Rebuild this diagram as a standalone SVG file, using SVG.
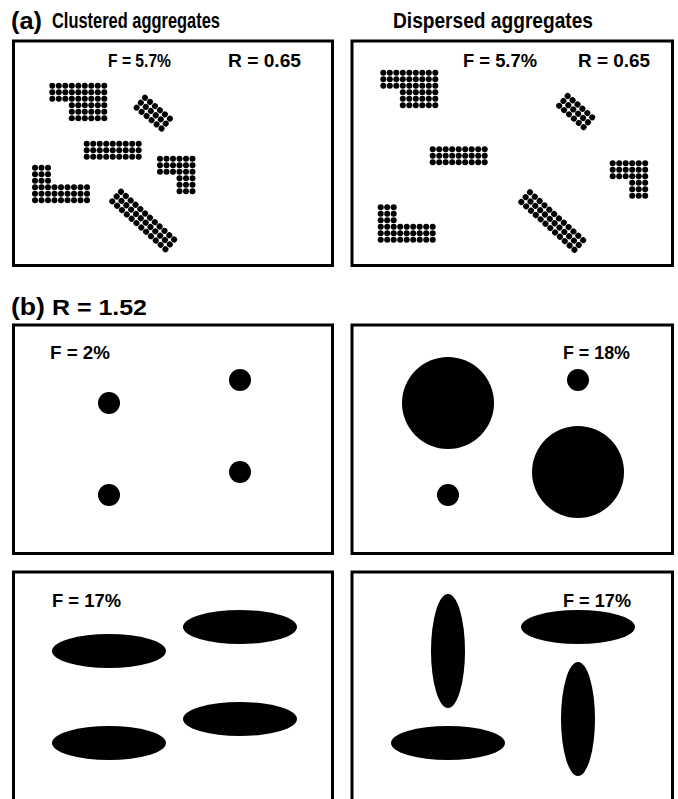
<svg xmlns="http://www.w3.org/2000/svg" xmlns:xlink="http://www.w3.org/1999/xlink" width="678" height="799" viewBox="0 0 678 799">
<style>
.box{fill:#fff;stroke:#000;stroke-width:3}
.t{font-family:"Liberation Sans",Arial,sans-serif;font-weight:bold;fill:#000}
.big{font-size:22px}
.lab{font-size:24px}
.sm{font-size:18px}
.blob{fill:#000}
</style>
<defs>
<circle id="d" r="3" fill="#000"/>
<g id="r3"><use href="#d"/><use href="#d" x="6.5"/><use href="#d" x="13"/></g>
<g id="r6"><use href="#r3"/><use href="#r3" x="19.5"/></g>
<g id="r9"><use href="#r6"/><use href="#r3" x="39"/></g>
<g id="r12"><use href="#r6"/><use href="#r6" x="39"/></g>
<g id="b3"><use href="#r3"/><use href="#r3" y="6.5"/><use href="#r3" y="13"/></g>
<g id="b6"><use href="#r6"/><use href="#r6" y="6.5"/><use href="#r6" y="13"/></g>
<g id="b9"><use href="#r9"/><use href="#r9" y="6.5"/><use href="#r9" y="13"/></g>
<g id="b12"><use href="#r12"/><use href="#r12" y="6.5"/><use href="#r12" y="13"/></g>
<g id="LA"><use href="#b9"/><use href="#b6" x="19.5" y="19.5"/></g>
<g id="LB"><use href="#b6"/><use href="#b3" x="19.5" y="19.5"/></g>
<g id="LC"><use href="#b3"/><use href="#b9" y="19.5"/></g>
</defs>
<rect width="678" height="799" fill="#fff"/>

<g id="titles">
<text class="t lab" x="11" y="29" textLength="31" lengthAdjust="spacingAndGlyphs">(a)</text>
<text class="t big" x="52" y="28" textLength="168" lengthAdjust="spacingAndGlyphs">Clustered aggregates</text>
<text class="t big" x="393" y="28" textLength="200" lengthAdjust="spacingAndGlyphs">Dispersed aggregates</text>
<text class="t lab" x="11" y="315" textLength="34" lengthAdjust="spacingAndGlyphs">(b)</text>
<text class="t big" x="52" y="315" textLength="95" lengthAdjust="spacingAndGlyphs">R = 1.52</text>
</g>

<g id="panel-a-clustered">
<rect class="box" x="13.5" y="41" width="319" height="224.5"/>
<text class="t sm" x="108" y="67" textLength="63" lengthAdjust="spacingAndGlyphs">F = 5.7%</text>
<text class="t sm" x="228" y="67" textLength="73" lengthAdjust="spacingAndGlyphs">R = 0.65</text>
<use href="#LA" transform="translate(52.3,85.7)"/>
<use href="#b6" transform="translate(145,97.7) rotate(40)"/>
<use href="#b9" transform="translate(86.7,143.7)"/>
<use href="#LB" transform="translate(160,158.7)"/>
<use href="#LC" transform="translate(35,167.7)"/>
<use href="#b12" transform="translate(121,191.7) rotate(42)"/>
</g>

<g id="panel-a-dispersed">
<rect class="box" x="352" y="41" width="320.5" height="224.5"/>
<text class="t sm" x="463" y="67" textLength="74" lengthAdjust="spacingAndGlyphs">F = 5.7%</text>
<text class="t sm" x="578" y="67" textLength="72" lengthAdjust="spacingAndGlyphs">R = 0.65</text>
<use href="#LA" transform="translate(383.3,72.7)"/>
<use href="#b6" transform="translate(567.7,96) rotate(41)"/>
<use href="#b9" transform="translate(432.7,149.3)"/>
<use href="#LB" transform="translate(612.7,163.3)"/>
<use href="#LC" transform="translate(380.7,207.3)"/>
<use href="#b12" transform="translate(530,192.3) rotate(42)"/>
</g>

<g id="panel-b1">
<rect class="box" x="13.5" y="325" width="319" height="228.5"/>
<text class="t sm" x="50" y="359" textLength="60" lengthAdjust="spacingAndGlyphs">F = 2%</text>
<circle class="blob" cx="109" cy="403" r="11"/>
<circle class="blob" cx="240" cy="380" r="11"/>
<circle class="blob" cx="109" cy="495" r="11"/>
<circle class="blob" cx="240" cy="472" r="11"/>
</g>

<g id="panel-b2">
<rect class="box" x="352" y="325" width="320.5" height="228.5"/>
<text class="t sm" x="563" y="359" textLength="67" lengthAdjust="spacingAndGlyphs">F = 18%</text>
<circle class="blob" cx="448" cy="403" r="46"/>
<circle class="blob" cx="578" cy="380" r="11"/>
<circle class="blob" cx="448" cy="495" r="11"/>
<circle class="blob" cx="578" cy="472" r="46"/>
</g>

<g id="panel-b3">
<rect class="box" x="13.5" y="572" width="319" height="240"/>
<text class="t sm" x="52" y="607" textLength="69" lengthAdjust="spacingAndGlyphs">F = 17%</text>
<ellipse class="blob" cx="109" cy="651" rx="57" ry="17"/>
<ellipse class="blob" cx="240" cy="627" rx="57" ry="17"/>
<ellipse class="blob" cx="109" cy="743" rx="57" ry="17"/>
<ellipse class="blob" cx="240" cy="719" rx="57" ry="17"/>
</g>

<g id="panel-b4">
<rect class="box" x="352" y="572" width="320.5" height="240"/>
<text class="t sm" x="563" y="607" textLength="68" lengthAdjust="spacingAndGlyphs">F = 17%</text>
<ellipse class="blob" cx="448" cy="651" rx="17" ry="57"/>
<ellipse class="blob" cx="578" cy="627" rx="57" ry="17"/>
<ellipse class="blob" cx="448" cy="743" rx="57" ry="17"/>
<ellipse class="blob" cx="578" cy="719" rx="17" ry="57"/>
</g>
</svg>
